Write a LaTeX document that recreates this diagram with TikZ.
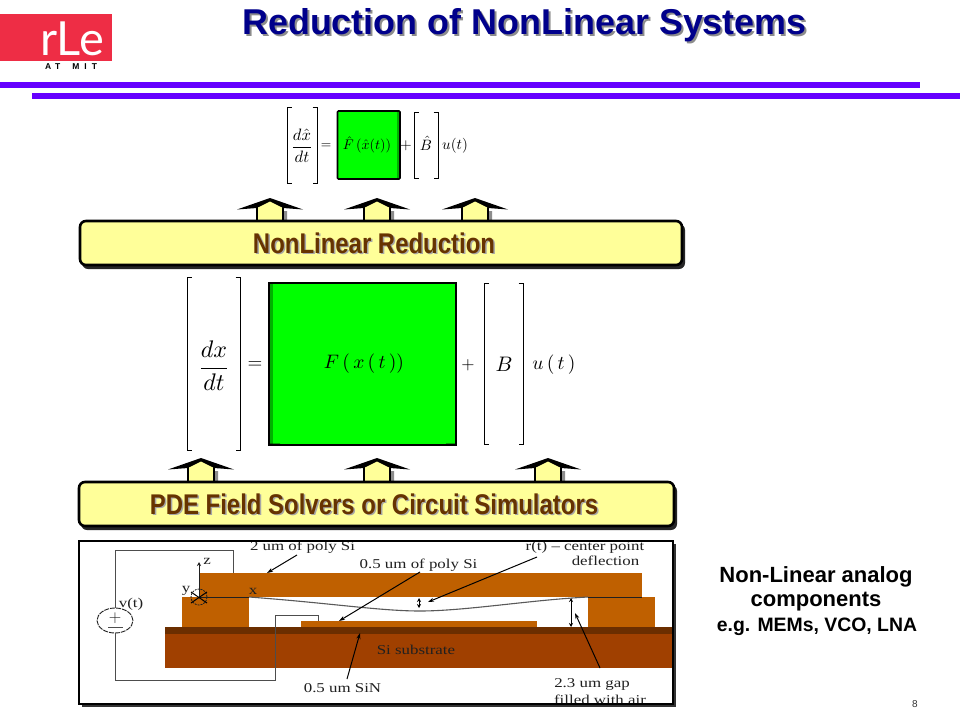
\documentclass[tikz,border=0pt]{standalone}
\usepackage[no-math]{fontspec}
\usepackage{graphicx,amsmath}
\usetikzlibrary{arrows.meta,shapes.geometric}
\setmainfont{Liberation Sans}
\newfontfamily\figfont[FakeStretch=1.25]{Liberation Serif}
\newfontfamily\boldnarrow[FakeStretch=0.84]{Liberation Sans Bold}
\newfontfamily\titlefont{Liberation Sans Bold}
\newfontfamily\logofont{Lato}
\definecolor{slidepurple}{HTML}{6600FF}
\definecolor{slidenavy}{HTML}{00008B}
\definecolor{logored}{HTML}{EE2D45}
\definecolor{boxyellow}{HTML}{FFFF99}
\definecolor{labelbrown}{HTML}{663300}
\definecolor{polysi}{HTML}{BF6000}
\definecolor{sinlayer}{HTML}{6B2E00}
\definecolor{subst}{HTML}{A04000}
\definecolor{eqgreen}{HTML}{00FF00}
\definecolor{eqdark}{HTML}{00B000}
\definecolor{inkfig}{HTML}{202020}
\tikzset{
  x=1pt,y=-1pt,
  figtext/.style={font=\figfont\fontsize{13.5}{15}\selectfont,text=inkfig,inner sep=0pt,anchor=base},
  wire/.style={draw=inkfig!80!white,line width=0.9pt},
  leader/.style={draw=black,line width=1pt,-{Stealth[length=6pt,width=4pt]}},
  both/.style={draw=black,line width=0.9pt,{Stealth[length=4pt,width=4pt]}-{Stealth[length=4pt,width=4pt]}},
  bracket/.style={draw=black,line width=0.8pt},
  bandbox/.style={draw=black,line width=2.6pt,fill=boxyellow,rounded corners=6pt},
  bandshadow/.style={fill=black!85,rounded corners=6pt},
  bandlabel/.style={font=\boldnarrow\fontsize{28.5}{29}\selectfont,text=labelbrown,inner sep=0pt},
  bandlabelshadow/.style={font=\boldnarrow\fontsize{28.5}{29}\selectfont,text=black!35,inner sep=0pt},
  sidelabel/.style={font=\titlefont\fontsize{22}{22}\selectfont,text=black,inner sep=0pt},
  blockshadow/.style={fill=black!45,draw=none},
  titletext/.style={font=\titlefont\fontsize{35.9}{36}\selectfont,inner sep=0pt,anchor=base},
}
\newcommand{\uparr}[3]{%
  \fill[blockshadow] (#1-10,#2+13) -- (#1+17,#2+13) -- (#1+17,#3) -- (#1+10,#3) -- cycle;
  \fill[black] (#1-33,#2+11.5) -- (#1,#2) -- (#1+33,#2+11.5) -- (#1+13,#2+10) -- (#1,#2+6) -- (#1-13,#2+10) -- cycle;
  \fill[boxyellow] (#1-12,#3) -- (#1-12,#2+9.5) -- (#1,#2+3.5) -- (#1+12,#2+9.5) -- (#1+12,#3) -- cycle;
  \draw[black,line width=2.4pt] (#1-13,#2+10) -- (#1-13,#3) (#1+13,#2+10) -- (#1+13,#3);
}
\newcommand{\brk}[4]{%
  \draw[bracket] (#1+4.5,#3) -- (#1,#3) -- (#1,#4) -- (#1+4.5,#4);
  \draw[bracket] (#2-4.5,#3) -- (#2,#3) -- (#2,#4) -- (#2-4.5,#4);
}
\begin{document}
\begin{tikzpicture}
\useasboundingbox (0,0) rectangle (960,720);
\fill[white] (0,0) rectangle (960,720);

% logo
\fill[logored] (0,14) rectangle (112,61);
\node[font=\logofont\fontsize{47}{47}\selectfont,text=white,inner sep=0pt,anchor=base] (logotext) at (72,55) {rLe};
\node[font=\titlefont\fontsize{8.5}{9}\selectfont,text=black,inner sep=0pt] (logosub) at (71,67) {A\kern4pt T\kern12pt M\kern5pt I\kern5pt T};

% title
\node[titletext,text=black!45] (titleshadow) at (526.5,36) {Reduction of NonLinear Systems};
\node[titletext,text=slidenavy] (title) at (524.5,34) {Reduction of NonLinear Systems};

% bars
\fill[slidepurple] (0,82) rectangle (920,88);
\fill[slidepurple] (32,93) rectangle (960,99);

% upper equation
\brk{287}{317}{107}{183}
\node[inner sep=0pt] (fracb) at (302,146) {\scalebox{1.65}{$\dfrac{d\hat{x}}{dt}$}};
\node[inner sep=0pt] (eqb) at (326,146) {\scalebox{1.35}{$=$}};
\fill[eqgreen] (337,111) rectangle (400,179);
\fill[eqdark] (397,112) rectangle (399.5,178);
\draw[black,line width=1.6pt,rounded corners=1pt] (337.5,111) rectangle (400,179);
\node[inner sep=0pt] (fhat) at (367,145) {\scalebox{1.4}{$\hat{F}\,(\hat{x}(t))$}};
\node[inner sep=0pt] (plusb) at (406,146) {\scalebox{1.5}{$+$}};
\brk{414}{438}{112}{178}
\node[inner sep=0pt] (bhat) at (426,143) {\scalebox{1.5}{$\hat{B}$}};
\node[inner sep=0pt] (ub) at (455,146) {\scalebox{1.5}{$u(t)$}};

% upper arrows and band
\uparr{270}{198}{220}
\uparr{377}{198}{220}
\uparr{475}{198}{220}
\fill[bandshadow] (82,224) rectangle (685,269);
\draw[bandbox] (80,221) rectangle (682,265);
\node[bandlabelshadow] (nlshadow) at (375.5,244.5) {NonLinear Reduction};
\node[bandlabel] (nllabel) at (374,243) {NonLinear Reduction};

% lower equation
\brk{187}{240}{277}{450}
\node[inner sep=0pt] (fraca) at (214,366) {\scalebox{2.4}{$\dfrac{dx}{dt}$}};
\node[inner sep=0pt] (eqa) at (255,365) {\scalebox{1.9}{$=$}};
\fill[eqgreen] (269,283) rectangle (456,445);
\fill[eqdark] (270,284) rectangle (272.5,444);
\draw[black,line width=1.6pt] (269,283) rectangle (456,445);
\fill[black] (270,443.5) rectangle (280,445) (446,443.5) rectangle (456,445);
\node[inner sep=0pt] (fa) at (364,364) {\scalebox{1.95}{$F\,(\,x\,(\,t\,))$}};
\node[inner sep=0pt] (plusa) at (468,365) {\scalebox{1.7}{$+$}};
\brk{484.5}{523}{283}{444}
\node[inner sep=0pt] (ba) at (504,364) {\scalebox{2.1}{$B$}};
\node[inner sep=0pt] (ua) at (554,365) {\scalebox{1.95}{$u\,(\,t\,)$}};

% lower arrows and band
\uparr{201}{458}{481}
\uparr{377}{458}{481}
\uparr{548}{458}{481}
\fill[bandshadow] (81,485) rectangle (677,530);
\draw[bandbox] (79,482) rectangle (674,526);
\node[bandlabelshadow] (pdeshadow) at (375.5,505.5) {PDE Field Solvers or Circuit Simulators};
\node[bandlabel] (pdelabel) at (374,504) {PDE Field Solvers or Circuit Simulators};

% MEMS figure frame
\fill[black!80] (82,544) rectangle (676,707);
\fill[white] (79,541) rectangle (673,704);
\begin{scope}
\clip (79,530) rectangle (673,704);
\fill[subst] (165,634) rectangle (673,668);
\fill[sinlayer] (165,627) rectangle (673,634);
\fill[polysi] (199,573) rectangle (642,597);
\fill[polysi] (182,597) rectangle (249,627);
\fill[polysi] (588,597) rectangle (655,627);
\fill[polysi] (301,621) rectangle (537,627);

% wires and source
\node[draw=inkfig,ellipse,dashed,dash pattern=on 5pt off 1pt,line width=0.9pt,minimum width=36pt,minimum height=25pt,inner sep=0pt] (src) at (115,620.5) {};
\node[inner sep=0pt,font=\figfont\fontsize{18}{18}\selectfont,text=inkfig] (srcplus) at (115,618) {$+$};
\draw[wire] (108,627) -- (123,627);
\draw[wire] (src.north) -- (115,550) -- (233,550) -- (233,573);
\draw[wire] (src.south) -- (115,680) -- (275,680) -- (275,615) -- (318,615) -- (318,621);

% beam and axes
\draw[black!65,line width=1.1pt] (249,597) .. controls (330,603) and (380,611) .. (420,611) .. controls (465,611) and (530,600) .. (588,597);
\draw[draw=inkfig,line width=0.8pt] (199,597) -- (249,597);
\draw[draw=inkfig,line width=0.8pt] (588,597) -- (642,597);
\draw[draw=inkfig,line width=0.8pt,-{Stealth[length=4pt,width=4pt]}] (199,597) -- (199,562);
\node[draw=inkfig,dashed,dash pattern=on 2pt off 1pt,circle,line width=0.8pt,minimum size=16pt,inner sep=0pt] (axis) at (199,597) {};
\draw[draw=black,line width=1pt] (191,592) -- (207,603) (191,603) -- (207,592);
\draw[both] (419,598) -- (419,608);
\draw[both] (571,598) -- (571,627);

% labels
\node[figtext] (l2um) at (302.5,550) {2 um of poly Si};
\node[figtext] (l05poly) at (418.5,568) {0.5 um of poly Si};
\node[figtext] (lrt) at (585,550) {r(t) – center point};
\node[figtext] (ldefl) at (605.5,565) {deflection};
\node[figtext] (lsin) at (342.5,692) {0.5 um SiN};
\node[figtext] (lgap) at (592,687) {2.3 um gap};
\node[figtext] (lair) at (600,704) {filled with air};
\node[figtext] (lsub) at (416,654) {Si substrate};
\node[figtext] (lv) at (131,607) {v(t)};
\node[figtext] (lx) at (253,594) {x};
\node[figtext] (ly) at (186,592) {y};
\node[figtext] (lz) at (207,564) {z};

% leaders
\coordinate (t2um) at (267,573);
\coordinate (tpoly) at (339,621);
\coordinate (trt) at (428,602);
\coordinate (tgap) at (575,613);
\coordinate (tsin) at (360,633);
\draw[leader] (297,555) -- (t2um);
\draw[leader] (420,572) -- (tpoly);
\draw[leader] (537,557) -- (trt);
\draw[leader] (600,668) -- (tgap);
\draw[leader] (347,679) -- (tsin);
\end{scope}
\draw[black,line width=1.1pt] (79,541) rectangle (673,704);

% side labels
\node[sidelabel] (side1) at (816,577) {Non-Linear analog};
\node[sidelabel] (side2) at (816,602) {components};
\node[font=\titlefont\fontsize{19.4}{20}\selectfont,inner sep=0pt] (side3) at (817,627) {e.g. MEMs, VCO, LNA};

% page number
\node[font=\fontsize{10}{10}\selectfont,text=black!80,inner sep=0pt] (pageno) at (915,704) {8};
\end{tikzpicture}
\end{document}
